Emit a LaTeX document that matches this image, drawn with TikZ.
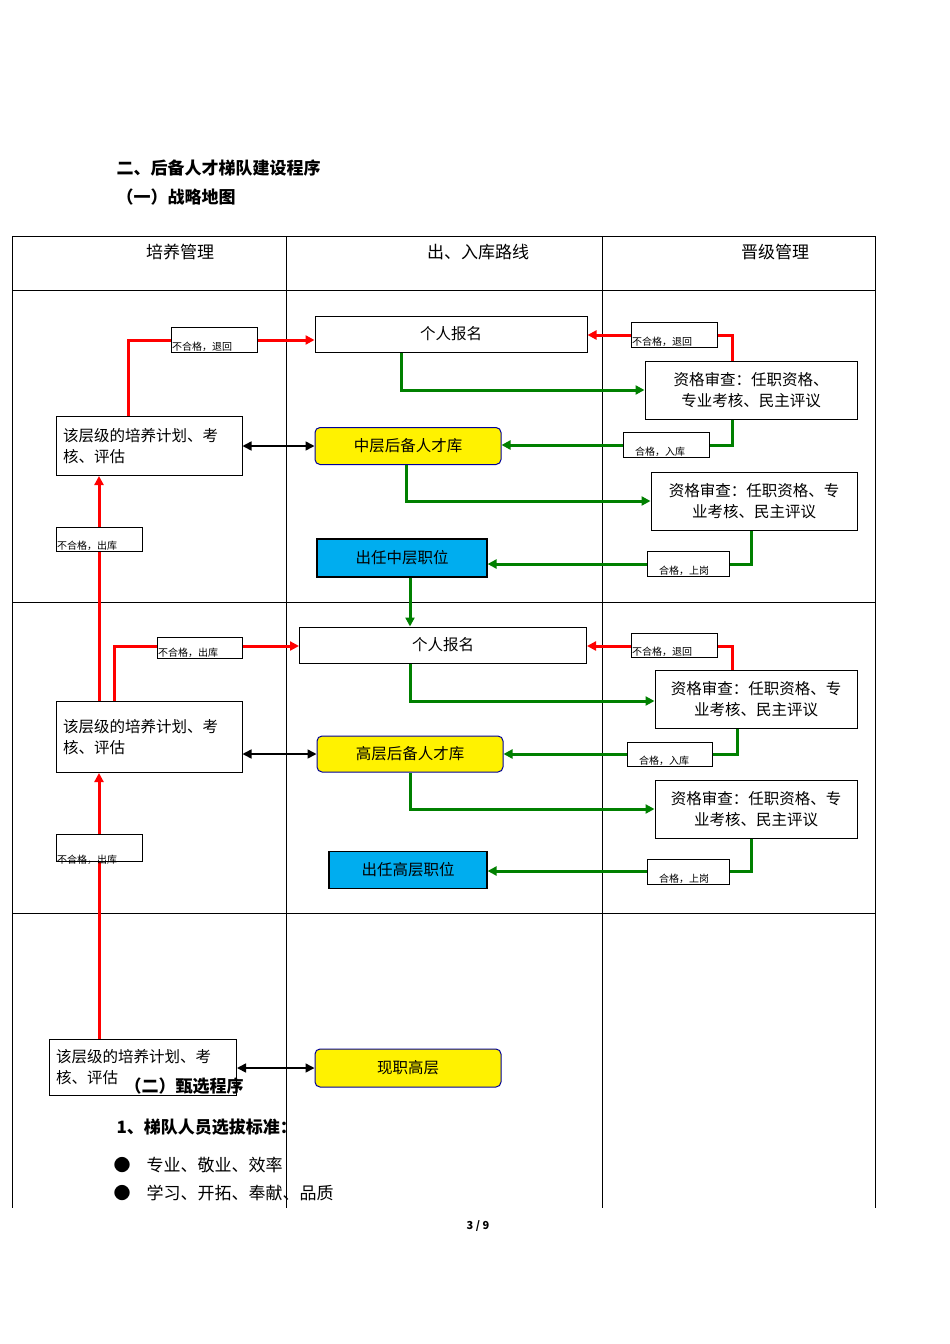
\documentclass[tikz,border=0pt]{standalone}
\usepackage{fontspec}
\setmainfont{Noto Sans CJK SC}
\usetikzlibrary{arrows.meta}
\begin{document}
\begin{tikzpicture}[x=1pt,y=-1pt,
 bx/.style={draw=black,line width=1pt,fill=white,inner sep=0pt,font=\fontsize{15.5}{21}\selectfont},
 lab/.style={draw=black,line width=1pt,fill=white,inner sep=0pt,anchor=north west},
 lt/.style={font=\fontsize{10}{10}\selectfont,inner sep=1pt,anchor=south west},
 grn/.style={draw={rgb,255:red,0;green,128;blue,0},line width=3pt,-{Triangle[length=9pt,width=9pt]}},
 rd/.style={draw=red,line width=3pt,-{Triangle[length=9pt,width=9pt]}},
 blk/.style={draw=black,line width=1.6pt,{Triangle[length=9pt,width=9pt]}-{Triangle[length=9pt,width=9pt]}},
 grid/.style={draw=black,line width=0.8pt}]
\useasboundingbox (0,0) rectangle (950,1344);
% table
\draw[grid] (12,236) -- (875,236);
\draw[grid] (12,290) -- (875,290);
\draw[grid] (12,602) -- (875,602);
\draw[grid] (12,913) -- (875,913);
\foreach \x in {12,286,602,875} \draw[grid] (\x,236) -- (\x,1208);
% titles
\node[anchor=west,font=\fontsize{17}{18}\selectfont\bfseries] (t1) at (113,168) {二、后备人才梯队建设程序};
\node[anchor=west,font=\fontsize{17}{18}\selectfont\bfseries] (t2) at (113,197) {（一）战略地图};
\node[font=\fontsize{17}{18}\selectfont] (h1) at (180,252) {培养管理};
\node[font=\fontsize{17}{18}\selectfont] (h2) at (478,252) {出、入库路线};
\node[font=\fontsize{17}{18}\selectfont] (h3) at (775,252) {晋级管理};
% nodes
\node[bx,minimum width=272pt,minimum height=36pt] (reg1) at (451,334) {个人报名};
\node[bx,minimum width=212pt,minimum height=58pt,align=center] (rev1) at (751,390) {资格审查：任职资格、\\专业考核、民主评议};
\node[bx,minimum width=186pt,minimum height=59pt,align=left,text width=172pt] (plan1) at (149,446) {该层级的培养计划、考\\核、评估};
\node[bx,fill=yellow,draw=blue!60!black,rounded corners=5pt,minimum width=186pt,minimum height=37pt] (pool1) at (408,446) {中层后备人才库};
\node[bx,minimum width=206pt,minimum height=58pt,align=center] (rev2) at (754,501) {资格审查：任职资格、专\\业考核、民主评议};
\node[bx,fill=cyan,line width=1.2pt,minimum width=170pt,minimum height=38pt] (job1) at (402,558) {出任中层职位};
\node[bx,minimum width=287pt,minimum height=36pt] (reg2) at (443,645) {个人报名};
\node[bx,minimum width=202pt,minimum height=58pt,align=center] (rev3) at (756,699) {资格审查：任职资格、专\\业考核、民主评议};
\node[bx,minimum width=186pt,minimum height=71pt,align=left,text width=172pt] (plan2) at (149,737) {该层级的培养计划、考\\核、评估};
\node[bx,fill=yellow,draw=blue!60!black,rounded corners=5pt,minimum width=186pt,minimum height=36pt] (pool2) at (410,754) {高层后备人才库};
\node[bx,minimum width=202pt,minimum height=58pt,align=center] (rev4) at (756,809) {资格审查：任职资格、专\\业考核、民主评议};
\node[bx,fill=cyan,line width=1.2pt,minimum width=158pt,minimum height=37pt] (job2) at (408,870) {出任高层职位};
\node[bx,minimum width=187pt,minimum height=56pt,align=left,text width=174pt] (plan3) at (143,1067) {该层级的培养计划、考\\核、评估};
\node[bx,fill=yellow,draw=blue!60!black,rounded corners=5pt,minimum width=186pt,minimum height=38pt] (cur) at (408,1068) {现职高层};
% helper coords
\coordinate (c1) at (128,340);
\coordinate (c2) at (732,335);
\coordinate (c3) at (401,390);
\coordinate (c4) at (732,445);
\coordinate (c5) at (406,501);
\coordinate (c6) at (751,564);
\coordinate (c7) at (114,646);
\coordinate (c8) at (732,646);
\coordinate (c9) at (410,701);
\coordinate (c10) at (737,754);
\coordinate (c11) at (410,809);
\coordinate (c12) at (751,871);
\coordinate (cv) at (99,0);
% connectors
\draw[rd] (plan1.north -| c1) -- (c1) -- (c1 -| reg1.west);
\draw[rd] (rev1.north -| c2) -- (c2) -- (c2 -| reg1.east);
\draw[grn] (reg1.south -| c3) -- (c3) -- (c3 -| rev1.west);
\draw[blk] (plan1.east) -- (pool1.west);
\draw[grn] (rev1.south -| c4) -- (c4) -- (c4 -| pool1.east);
\draw[grn] (pool1.south -| c5) -- (c5) -- (c5 -| rev2.west);
\draw[grn] (rev2.south -| c6) -- (c6) -- (c6 -| job1.east);
\draw[grn] (job1.south -| c9) -- (reg2.north -| c9);
\draw[rd] (plan3.north -| cv) -- (plan2.south -| cv);
\draw[rd] (plan2.north -| cv) -- (plan1.south -| cv);
\draw[rd] (plan2.north -| c7) -- (c7) -- (c7 -| reg2.west);
\draw[rd] (rev3.north -| c8) -- (c8) -- (c8 -| reg2.east);
\draw[grn] (reg2.south -| c9) -- (c9) -- (c9 -| rev3.west);
\draw[blk] (plan2.east |- pool2.west) -- (pool2.west);
\draw[grn] (rev3.south -| c10) -- (c10) -- (c10 -| pool2.east);
\draw[grn] (pool2.south -| c11) -- (c11) -- (c11 -| rev4.west);
\draw[grn] (rev4.south -| c12) -- (c12) -- (c12 -| job2.east);
\draw[blk] (plan3.east |- cur.west) -- (cur.west);
% labels
\node[lab,minimum width=86pt,minimum height=25pt] (l1) at (171,327) {};
\node[lt] at (l1.south west) {不合格，退回};
\node[lab,minimum width=86pt,minimum height=25pt] (l2) at (631,322) {};
\node[lt] at (l2.south west) {不合格，退回};
\node[lab,minimum width=86pt,minimum height=25pt] (l3) at (623,432) {};
\node[lt] at ([xshift=11pt]l3.south west) {合格，入库};
\node[lab,minimum width=86pt,minimum height=24pt] (l4) at (56,527) {};
\node[lt] at (l4.south west) {不合格，出库};
\node[lab,minimum width=82pt,minimum height=25pt] (l5) at (647,551) {};
\node[lt] at ([xshift=11pt]l5.south west) {合格，上岗};
\node[lab,minimum width=85pt,minimum height=21pt] (l6) at (157,637) {};
\node[lt] at (l6.south west) {不合格，出库};
\node[lab,minimum width=86pt,minimum height=24pt] (l7) at (631,633) {};
\node[lt] at (l7.south west) {不合格，退回};
\node[lab,minimum width=85pt,minimum height=24pt] (l8) at (627,742) {};
\node[lt] at ([xshift=11pt]l8.south west) {合格，入库};
\node[lab,minimum width=86pt,minimum height=27pt] (l9) at (56,834) {};
\node[lt] at ([yshift=-4pt]l9.south west) {不合格，出库};
\node[lab,minimum width=82pt,minimum height=25pt] (l10) at (647,859) {};
\node[lt] at ([xshift=11pt]l10.south west) {合格，上岗};
% bottom text
\node[anchor=west,font=\fontsize{17}{18}\selectfont\bfseries] (t3) at (121,1086) {（二）甄选程序};
\node[anchor=west,font=\fontsize{17}{18}\selectfont\bfseries] (t4) at (113,1127) {1、梯队人员选拔标准：};
\node[anchor=west,font=\fontsize{17}{18}\selectfont] (b1) at (110,1165) {●\hspace{16pt}专业、敬业、效率};
\node[anchor=west,font=\fontsize{17}{18}\selectfont] (b2) at (110,1193) {●\hspace{16pt}学习、开拓、奉献、品质};
\node[font=\fontsize{11}{12}\selectfont\bfseries] (pg) at (478,1226) {3 / 9};
\end{tikzpicture}
\end{document}
